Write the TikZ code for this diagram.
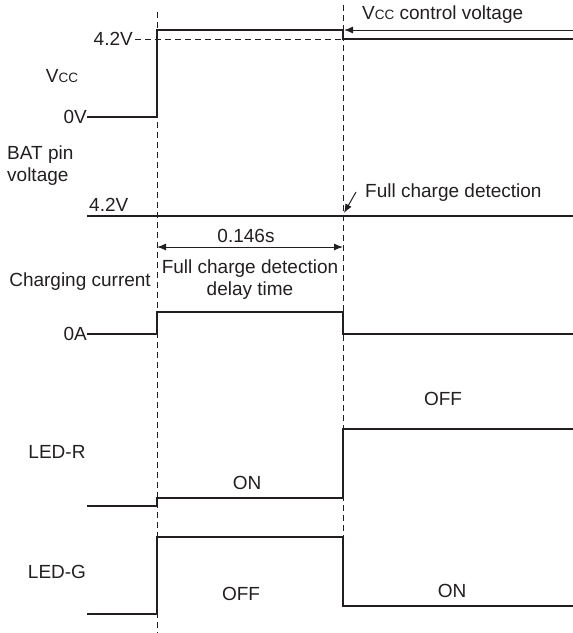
\documentclass[tikz,border=0pt]{standalone}
\usepackage{fontspec}
\setmainfont{Liberation Sans}
\definecolor{TraceInk}{HTML}{231F20}
\usetikzlibrary{arrows.meta,positioning,calc}

\begin{document}
\begin{tikzpicture}[
    x=1pt, y=-1pt,
    font=\fontsize{19}{22}\selectfont,
    every node/.style={text=TraceInk, inner sep=0pt},
    wave/.style={draw=TraceInk, line width=2.4pt, line join=miter},
    guide/.style={draw=TraceInk, line width=0.9pt, dash pattern=on 6pt off 4pt},
    pointer/.style={draw=TraceInk, line width=1pt, -{Latex[length=9pt,width=7pt]}},
    span/.style={draw=TraceInk, line width=1pt, {Latex[length=9pt,width=7pt]}-{Latex[length=9pt,width=7pt]}}
  ]
  \useasboundingbox (0,0) rectangle (573,633);

  % time marks
  \draw[guide] (157,12) -- (157,633);
  \draw[guide] (343,5) -- (343,537);

  % Vcc
  \node[anchor=east] (vhigh) at (133,39) {4.2V};
  \node (vname) at (62,76) {V{\fontsize{13.5}{15}\selectfont CC}};
  \node[anchor=east] (vzero) at (87,117) {0V};
  \draw[guide] (vhigh.east) ++(2,0) -- (343,39);
  \draw[wave] (vzero.east) -- (157,117) -- (157,30) -- (343,30) -- (343,39) -- (573,39);
  \node[anchor=west] (vctl) at (362,15) {V{\fontsize{13.5}{15}\selectfont CC} control voltage};
  \coordinate (ctlStart) at (573,30);
  \coordinate (ctlEnd) at (344,30);
  \draw[pointer] (ctlStart) -- (ctlEnd);

  % BAT pin
  \node[anchor=west, align=left] (batname) at (7,166) {BAT pin\\voltage};
  \node[anchor=base west] (batlevel) at (89,211) {4.2V};
  \draw[wave] (87,216) -- (573,216);
  \node[anchor=west] (fullnote) at (365,193) {Full charge detection};
  \coordinate (fullPt) at (344,213);
  \draw[pointer] (356,192) -- (fullPt);

  % delay
  \coordinate (delayL) at (157,247);
  \coordinate (delayR) at (343,247);
  \draw[span] (delayL) -- (delayR);
  \node (delay) at (246,236) {0.146s};
  \node[align=center] (delaynote) at (250,280) {Full charge detection\\delay time};

  % Charging current
  \node[anchor=east] (iname) at (151,282) {Charging current};
  \node[anchor=east] (izero) at (87,334) {0A};
  \draw[wave] (izero.east) -- (157,334) -- (157,312) -- (343,312) -- (343,334) -- (573,334);

  % LED-R
  \node (rname) at (57,452) {LED-R};
  \draw[wave] (87,506) -- (157,506) -- (157,498) -- (343,498) -- (343,429) -- (573,429);
  \node (ron) at (247,483) {ON};
  \node (roff) at (443,399) {OFF};

  % LED-G
  \node (gname) at (57,572) {LED-G};
  \draw[wave] (87,614) -- (157,614) -- (157,537) -- (343,537) -- (343,606) -- (573,606);
  \node (goff) at (241,594) {OFF};
  \node (gon) at (452,591) {ON};
\end{tikzpicture}
\end{document}
